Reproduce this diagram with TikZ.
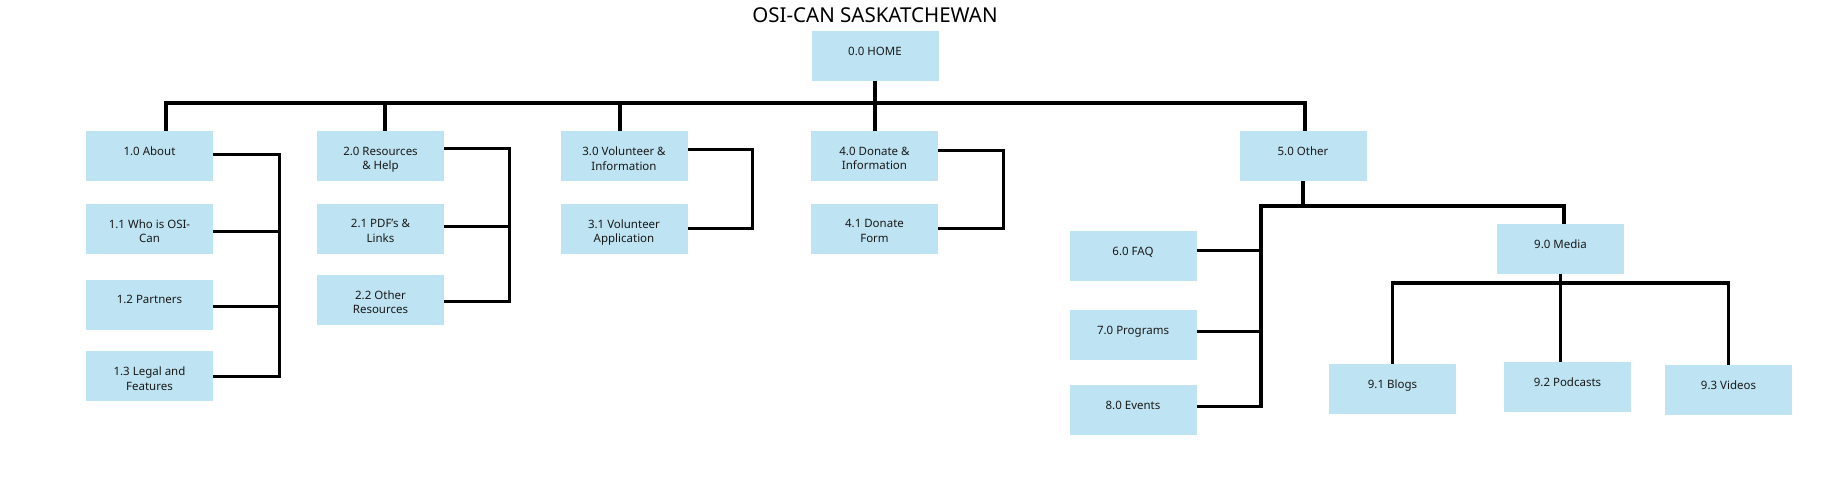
\documentclass[tikz,border=0pt]{standalone}
\usepackage{fontspec}
\setmainfont{Noto Sans}
\usetikzlibrary{backgrounds,calc}
\definecolor{boxblue}{RGB}{190,227,242}
\definecolor{txt}{RGB}{25,25,25}
\newcommand\bx[3]{%
  \node[box] (#1) at #2 {};
  \node[lbl] (#1t) at ($(#1.north)+(0,16)$) {#3};}
\begin{document}
\begin{tikzpicture}[x=1pt,y=-1pt,
  box/.style={fill=boxblue,minimum width=127pt,minimum height=50pt,inner sep=0pt},
  lbl/.style={anchor=north,inner sep=0pt,align=center,
    font=\fontsize{11.5}{14.5}\selectfont,text=txt},
  ln/.style={line width=3pt,line cap=rect},
  thk/.style={line width=3.8pt,line cap=rect},
  xthk/.style={line width=4.6pt,line cap=rect}]
\useasboundingbox (0,0) rectangle (1835,495);
% title
\node[font=\fontsize{20.5}{23}\selectfont,anchor=base] (title) at (875,23) {OSI-CAN SASKATCHEWAN};
% nodes
\bx{home}{(875,56)}{0.0 HOME}
\bx{n1}{(149.5,156)}{1.0 About}
\bx{n11}{(149.5,228.5)}{1.1 Who is OSI-\\Can}
\bx{n12}{(149.5,304.5)}{1.2 Partners}
\bx{n13}{(149.5,376)}{1.3 Legal and\\Features}
\bx{n2}{(380.5,156)}{2.0 Resources\\\& Help}
\bx{n21}{(380.5,228.5)}{2.1 PDF's \&\\Links}
\bx{n22}{(380.5,299.5)}{2.2 Other\\Resources}
\bx{n3}{(624,156)}{3.0 Volunteer \&\\Information}
\bx{n31}{(624,228.5)}{3.1 Volunteer\\Application}
\bx{n4}{(874.5,156)}{4.0 Donate \&\\Information}
\bx{n41}{(874.5,228.5)}{4.1 Donate\\Form}
\bx{n5}{(1303,156)}{5.0 Other}
\bx{n6}{(1133,256)}{6.0 FAQ}
\bx{n7}{(1133,335)}{7.0 Programs}
\bx{n8}{(1133,410)}{8.0 Events}
\bx{n9}{(1560.5,249)}{9.0 Media}
\bx{n91}{(1392.5,389)}{9.1 Blogs}
\bx{n92}{(1567.5,386.5)}{9.2 Podcasts}
\bx{n93}{(1728.5,389.5)}{9.3 Videos}
% helper coordinates
\coordinate (d1) at (166,103);
\coordinate (d2) at (385,103);
\coordinate (d3) at (620,103);
\coordinate (d5) at (1305,103);
\coordinate (b1) at (279,0);
\coordinate (b2) at (509,0);
\coordinate (b3) at (752,0);
\coordinate (b4) at (1003,0);
\coordinate (b5) at (1261,206);
\coordinate (d9) at (1564,206);
\coordinate (mb) at (1560,283);
\begin{scope}[on background layer]
\fill[white] (0,0) rectangle (1835,495);
% top bar
\draw[thk] (d1 |- n1.north) -- (d1) -- (d5) -- (d5 |- n5.north);
\draw[thk] (d2) -- (d2 |- n2.north);
\draw[thk] (d3) -- (d3 |- n3.north);
\draw[thk] (home.south) -- (home.south |- n4.north);
% group 1
\draw[ln] ($(n1.east)+(0,-2)$) -| (b1 |- n13.east) -- (n13.east);
\draw[ln] ($(n11.east)+(0,2.5)$) -- ($(b1 |- n11.east)+(0,2.5)$);
\draw[ln] ($(n12.east)+(0,1.5)$) -- ($(b1 |- n12.east)+(0,1.5)$);
% group 2
\draw[ln] ($(n2.east)+(0,-8)$) -| ($(b2 |- n22.east)+(0,1.5)$) -- ($(n22.east)+(0,1.5)$);
\draw[ln] ($(n21.east)+(0,-2.5)$) -- ($(b2 |- n21.east)+(0,-2.5)$);
% group 3
\draw[ln] ($(n3.east)+(0,-7)$) -| (b3 |- n31.east) -- (n31.east);
% group 4
\draw[ln] ($(n4.east)+(0,-6)$) -| (b4 |- n41.east) -- (n41.east);
% group 5
\draw[xthk] (n5.south) -- (n5.south |- b5);
\draw[xthk] ($(b5 |- n8.east)+(0,-4)$) -- (b5) -- (d9) -- (d9 |- n9.north);
\draw[ln] ($(n6.east)+(0,-6)$) -- ($(b5 |- n6.east)+(0,-6)$);
\draw[ln] ($(n7.east)+(0,-4)$) -- ($(b5 |- n7.east)+(0,-4)$);
\draw[ln] ($(n8.east)+(0,-4)$) -- ($(b5 |- n8.east)+(0,-4)$);
% media
\draw[thk] (n9.south) -- (n9.south |- n92.north);
\draw[thk] (n91.north) |- (mb) -| (n93.north);
\end{scope}
\end{tikzpicture}
\end{document}
